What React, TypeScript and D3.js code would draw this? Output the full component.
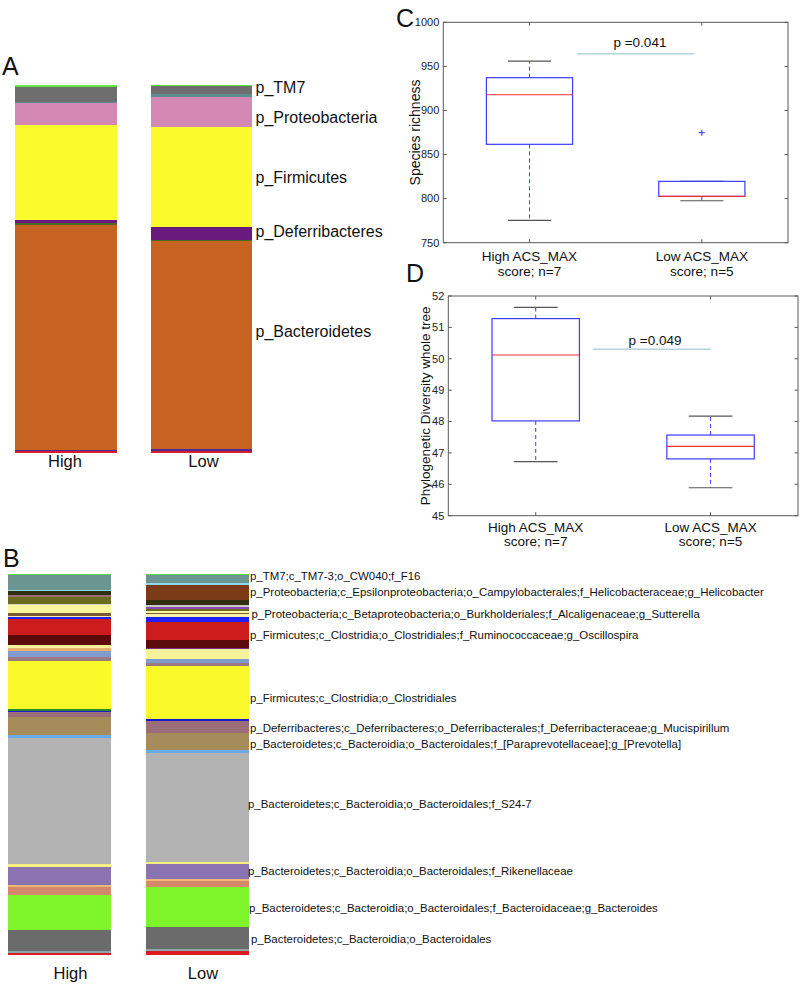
import React from "react";
import * as d3 from "d3";

const FONT = "'Liberation Sans', Arial, Helvetica, sans-serif";

// ---------- Panel A: phylum-level relative abundance (%) ----------
const groupNames = ["High", "Low"];
const phylaColors = ["#5ee83a", "#6e6e6e", "#5c8c8c", "#d488b4", "#fafa2c", "#6a1a7c", "#4d6a22", "#c86422", "#4a2a96", "#d81e2a"];
const phylaHigh = [0.46, 4.24, 0.11, 5.97, 25.88, 0.9, 0.38, 61.17, 0.27, 0.62];
const phylaLow = [0.27, 2.17, 0.73, 8.31, 26.99, 3.61, 0.14, 56.61, 0.54, 0.62];
const phylaLabels = ["p_TM7", "p_Proteobacteria", "p_Firmicutes", "p_Deferribacteres", "p_Bacteroidetes"];

// ---------- Panel B: genus-level relative abundance (%) ----------
const taxaColors = [
  "#5fd84a", "#6a9590", "#8ad8e8", "#7b3b17", "#2f2f10", "#9c6e78", "#c8c8c8", "#8a4ab0", "#6b6a1e", "#d8d8c8",
  "#f8f59a", "#7a5a30", "#faf0a8", "#2020ff", "#cc1c1c", "#5c0a0a", "#7a2a8a", "#f7f39a", "#e8b070", "#7f9bd0",
  "#9a7a80", "#fafa2a", "#2a8a2a", "#1a1ad0", "#9c6e78", "#a68c5a", "#6aaae8", "#b3b3b3", "#f5f080", "#8b72b0",
  "#f0b878", "#d4876a", "#7df52a", "#6b6b6b", "#8aa8a8", "#dd1a22",
];
const taxaHigh = [
  0.34, 3.86, 0.34, 0, 1.05, 0.52, 0, 0, 1.76, 0.34,
  2.1, 0.71, 0.34, 0.52, 4.2, 2.47, 0, 0.87, 0.71, 1.57,
  1.05, 12.75, 0.37, 0.34, 1.23, 4.88, 0.63, 33.2, 0.63, 4.8,
  0.6, 1.94, 9.26, 5.43, 0.52, 0.68,
];
const taxaLow = [
  0.34, 1.94, 0.68, 3.86, 1.39, 0, 0.37, 0.52, 0.52, 0,
  0.52, 0.34, 0.87, 1.23, 4.72, 2.1, 0.34, 2.47, 0, 1.21,
  0.71, 13.98, 0, 0.52, 3.15, 4.38, 0.71, 28.67, 0.52, 3.86,
  0.52, 1.57, 10.49, 5.93, 0.52, 1.05,
];
const taxaLabels = [
  "p_TM7;c_TM7-3;o_CW040;f_F16",
  "p_Proteobacteria;c_Epsilonproteobacteria;o_Campylobacterales;f_Helicobacteraceae;g_Helicobacter",
  "p_Proteobacteria;c_Betaproteobacteria;o_Burkholderiales;f_Alcaligenaceae;g_Sutterella",
  "p_Firmicutes;c_Clostridia;o_Clostridiales;f_Ruminococcaceae;g_Oscillospira",
  "p_Firmicutes;c_Clostridia;o_Clostridiales",
  "p_Deferribacteres;c_Deferribacteres;o_Deferribacterales;f_Deferribacteraceae;g_Mucispirillum",
  "p_Bacteroidetes;c_Bacteroidia;o_Bacteroidales;f_[Paraprevotellaceae];g_[Prevotella]",
  "p_Bacteroidetes;c_Bacteroidia;o_Bacteroidales;f_S24-7",
  "p_Bacteroidetes;c_Bacteroidia;o_Bacteroidales;f_Rikenellaceae",
  "p_Bacteroidetes;c_Bacteroidia;o_Bacteroidales;f_Bacteroidaceae;g_Bacteroides",
  "p_Bacteroidetes;c_Bacteroidia;o_Bacteroidales",
];

// ---------- Panels C & D: box plots ----------
const boxCategories = ["High ACS_MAX", "Low ACS_MAX"];
const boxSubLabels = ["score; n=7", "score; n=5"];
// [lower whisker, Q1, median, Q3, upper whisker]
const richnessStats = [
  [775.4, 861.6, 917.9, 937.2, 956.0],
  [797.6, 802.5, 802.5, 819.6, 819.6],
];
const richnessOutliers = [[], [874.8]];
const richnessTicks = [750, 800, 850, 900, 950, 1000];
const pdStats = [
  [46.72, 48.02, 50.12, 51.28, 51.64],
  [45.89, 46.81, 47.21, 47.57, 48.17],
];
const pdOutliers = [[], []];
const pdTicks = [45, 46, 47, 48, 49, 50, 51, 52];

// ---------- layout ----------
const phylaLabelY = [93.3, 122.7, 183.3, 236.7, 336.7];
const taxaLabelY = [580, 595.7, 618.3, 639, 701.7, 731.7, 748.3, 807.7, 875, 911.7, 942.7];
const taxaLabelDx = [0, 0, 1.5, 0, 0, 0, 0, -2, -2, -1, 1];

type StackProps = {
  values: number[][];
  colors: string[];
  xs: [number, number][];
  top: number;
  bottom: number;
};

function StackedBars({ values, colors, xs, top, bottom }: StackProps) {
  return (
    <g>
      {values.map((vals, gi) => {
        const total = d3.sum(vals);
        const y = d3.scaleLinear().domain([0, total]).range([top, bottom]);
        const cum = [0, ...Array.from(d3.cumsum(vals))];
        return (
          <g key={gi}>
            {vals.map((v, i) =>
              v > 0 ? (
                <rect
                  key={i}
                  x={xs[gi][0]}
                  width={xs[gi][1] - xs[gi][0]}
                  y={y(cum[i])}
                  height={y(cum[i + 1]) - y(cum[i])}
                  fill={colors[i]}
                  shapeRendering="crispEdges"
                />
              ) : null
            )}
          </g>
        );
      })}
    </g>
  );
}

type BoxProps = {
  left: number;
  right: number;
  top: number;
  bottom: number;
  domain: [number, number];
  ticks: number[];
  stats: number[][];
  outliers: number[][];
  yLabel: string;
  yLabelX: number;
  yLabelSize: number;
  pText: string;
  pLine: [number, number, number];
  pTextPos: [number, number];
  pColor: string;
  catBaseline: [number, number];
};

function BoxPanel(p: BoxProps) {
  const x = d3.scaleLinear().domain([0.5, 2.5]).range([p.left, p.right]);
  const y = d3.scaleLinear().domain(p.domain).range([p.bottom, p.top]);
  const tickLen = 3.5;
  const frame = "#5a5a5a";
  const blue = "#3c3cff";
  const bw = 0.25;
  const cw = 0.125;
  return (
    <g fontFamily={FONT}>
      <rect x={p.left} y={p.top} width={p.right - p.left} height={p.bottom - p.top} fill="#fff" stroke={frame} strokeWidth={1} />
      {p.ticks.map((t) => (
        <g key={t}>
          <line x1={p.left} x2={p.left + tickLen} y1={y(t)} y2={y(t)} stroke={frame} />
          <line x1={p.right} x2={p.right - tickLen} y1={y(t)} y2={y(t)} stroke={frame} />
          <text x={p.left - 4} y={y(t)} dy="0.35em" textAnchor="end" fontSize={11} fill="#222">
            {t}
          </text>
        </g>
      ))}
      {boxCategories.map((c, i) => (
        <g key={c}>
          <line x1={x(i + 1)} x2={x(i + 1)} y1={p.bottom} y2={p.bottom - tickLen} stroke={frame} />
          <line x1={x(i + 1)} x2={x(i + 1)} y1={p.top} y2={p.top + tickLen} stroke={frame} />
          <text x={x(i + 1)} y={p.catBaseline[0]} textAnchor="middle" fontSize={13.5} fill="#111">
            {c}
          </text>
          <text x={x(i + 1)} y={p.catBaseline[1]} textAnchor="middle" fontSize={13.5} fill="#111">
            {boxSubLabels[i]}
          </text>
        </g>
      ))}
      {p.stats.map((s, i) => {
        const cx = x(i + 1);
        const [lo, q1, med, q3, hi] = s;
        return (
          <g key={i}>
            <line x1={cx} x2={cx} y1={y(q3)} y2={y(hi)} stroke={blue} strokeDasharray="4,3" />
            <line x1={cx} x2={cx} y1={y(q1)} y2={y(lo)} stroke={blue} strokeDasharray="4,3" />
            <line x1={x(i + 1 - cw)} x2={x(i + 1 + cw)} y1={y(hi)} y2={y(hi)} stroke="#555" strokeWidth={1.2} />
            <line x1={x(i + 1 - cw)} x2={x(i + 1 + cw)} y1={y(lo)} y2={y(lo)} stroke="#555" strokeWidth={1.2} />
            <rect x={x(i + 1 - bw)} width={x(i + 1 + bw) - x(i + 1 - bw)} y={y(q3)} height={y(q1) - y(q3)} fill="none" stroke={blue} strokeWidth={1.2} />
            <line x1={x(i + 1 - bw)} x2={x(i + 1 + bw)} y1={y(med)} y2={y(med)} stroke="#f03030" strokeWidth={1.1} />
            {p.outliers[i].map((o, k) => (
              <g key={k} stroke={blue} strokeWidth={1.1}>
                <line x1={cx - 3} x2={cx + 3} y1={y(o)} y2={y(o)} />
                <line x1={cx} x2={cx} y1={y(o) - 3} y2={y(o) + 3} />
              </g>
            ))}
          </g>
        );
      })}
      <line x1={x(p.pLine[0])} x2={x(p.pLine[1])} y1={y(p.pLine[2])} y2={y(p.pLine[2])} stroke={p.pColor} strokeWidth={1.5} />
      <text x={x(p.pTextPos[0])} y={y(p.pTextPos[1])} textAnchor="middle" fontSize={13.5} fill="#111">
        {p.pText}
      </text>
      <text
        transform={`translate(${p.yLabelX},${(p.top + p.bottom) / 2}) rotate(-90)`}
        textAnchor="middle"
        fontSize={p.yLabelSize}
        fill="#111"
      >
        {p.yLabel}
      </text>
    </g>
  );
}

export default function App() {
  return (
    <svg
      width={800}
      height={985}
      viewBox="0 0 800 985"
      style={{ position: "absolute", left: 0, top: 0, background: "#fff" }}
      fontFamily={FONT}
    >
      <rect width={800} height={985} fill="#fff" />
      {/* Panel A */}
      <text x={2} y={75} fontSize={25} fill="#111">A</text>
      <StackedBars values={[phylaHigh, phylaLow]} colors={phylaColors} xs={[[15, 117], [151, 252]]} top={85} bottom={453.3} />
      {phylaLabels.map((l, i) => (
        <text key={l} x={255.5} y={phylaLabelY[i]} fontSize={16} fill="#111">{l}</text>
      ))}
      <text x={65} y={466.5} textAnchor="middle" fontSize={16.5} fill="#111">{groupNames[0]}</text>
      <text x={203.5} y={466.5} textAnchor="middle" fontSize={16.5} fill="#111">{groupNames[1]}</text>

      {/* Panel B */}
      <text x={3} y={567} fontSize={25} fill="#111">B</text>
      <StackedBars values={[taxaHigh, taxaLow]} colors={taxaColors} xs={[[8, 111], [146, 249]]} top={574} bottom={955.3} />
      {taxaLabels.map((l, i) => (
        <text key={l} x={250 + taxaLabelDx[i]} y={taxaLabelY[i]} fontSize={11.45} fill="#111">{l}</text>
      ))}
      <text x={70.5} y={979} textAnchor="middle" fontSize={16.5} fill="#111">{groupNames[0]}</text>
      <text x={203} y={979} textAnchor="middle" fontSize={16.5} fill="#111">{groupNames[1]}</text>

      {/* Panel C */}
      <text x={396} y={27} fontSize={25} fill="#111">C</text>
      <BoxPanel
        left={443.3}
        right={788}
        top={22.3}
        bottom={242.7}
        domain={[750, 1000]}
        ticks={richnessTicks}
        stats={richnessStats}
        outliers={richnessOutliers}
        yLabel="Species richness"
        yLabelX={420}
        yLabelSize={14}
        pText="p =0.041"
        pLine={[1.274, 1.955, 964.4]}
        pTextPos={[1.641, 972.3]}
        pColor="#b4d4dc"
        catBaseline={[261, 276]}
      />

      {/* Panel D */}
      <text x={406} y={282} fontSize={25} fill="#111">D</text>
      <BoxPanel
        left={448.3}
        right={798}
        top={296}
        bottom={515.7}
        domain={[45, 52]}
        ticks={pdTicks}
        stats={pdStats}
        outliers={pdOutliers}
        yLabel="Phylogenetic Diversity whole tree"
        yLabelX={430}
        yLabelSize={13.5}
        pText="p =0.049"
        pLine={[1.329, 2.0, 50.3]}
        pTextPos={[1.682, 50.44]}
        pColor="#b4d4dc"
        catBaseline={[531.5, 546]}
      />
    </svg>
  );
}
